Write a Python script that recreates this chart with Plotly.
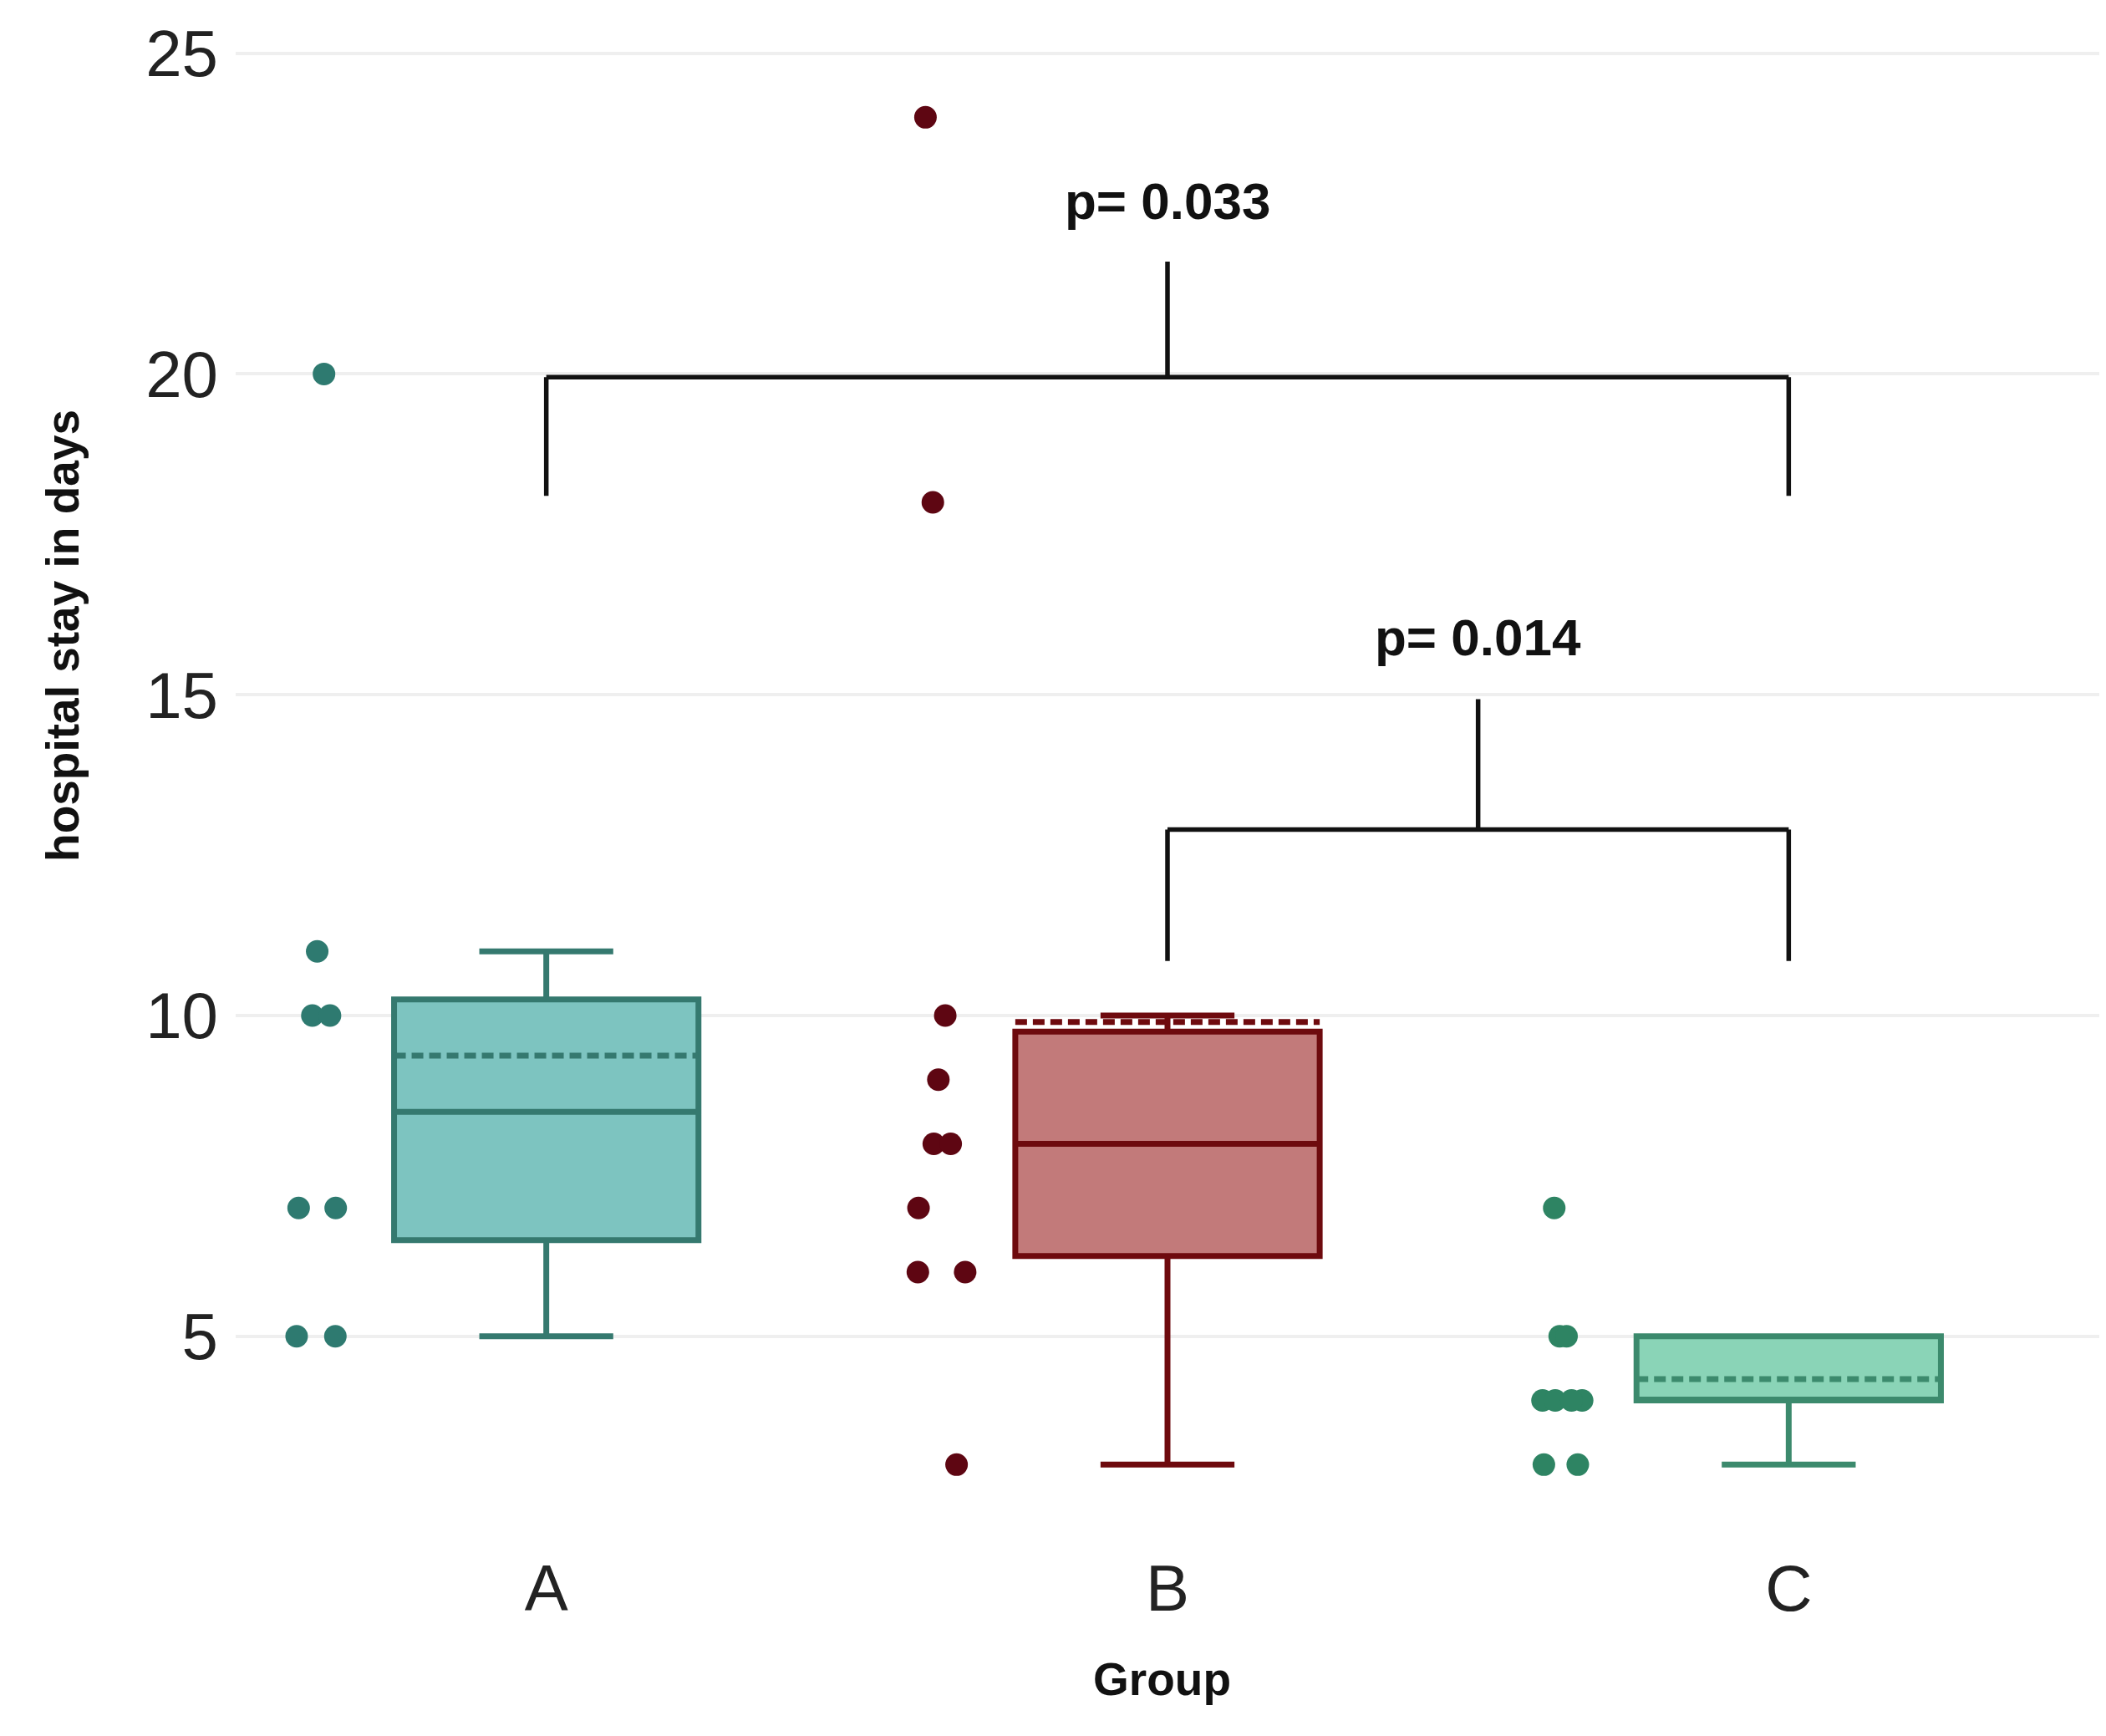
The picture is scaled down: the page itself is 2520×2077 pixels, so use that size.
import numpy as np
import plotly.graph_objects as go

# ---- data ----
categories = ["A", "B", "C"]
stay_A = [20, 11, 10, 10, 7, 7, 5, 5]
stay_B = [24, 18, 10, 9, 8, 8, 7, 6, 6, 3]
stay_C = [7, 5, 5, 4, 4, 4, 4, 3, 3]
y_ticks = [5, 10, 15, 20, 25]

# significance brackets: (left group, right group, bar y, arm bottom y, stem top y, label y, label)
brackets = [
    ("A", "C", 19.95, 18.1, 21.75, 22.7, "p= 0.033"),
    ("B", "C", 12.9, 10.85, 14.93, 15.9, "p= 0.014"),
]

fill_colors = ["#7DC4C0", "#C27A7A", "#8AD4B7"]
line_colors = ["#35796F", "#6E0A0E", "#3C8A6D"]
point_colors = ["#2E7A70", "#5E0612", "#2E8463"]

series = [stay_A, stay_B, stay_C]
FONT = "Liberation Sans, Arial, sans-serif"

fig = go.Figure()
for cat, vals, fc, lc, pc in zip(categories, series, fill_colors, line_colors, point_colors):
    arr = np.asarray(vals, dtype=float)
    q1, med, q3 = np.percentile(arr, [25, 50, 75])
    iqr = q3 - q1
    lo = arr[arr >= q1 - 1.5 * iqr].min()
    hi = arr[arr <= q3 + 1.5 * iqr].max()
    # box from type-7 quartiles
    fig.add_trace(go.Box(
        x=[cat], q1=[q1], median=[med], q3=[q3],
        lowerfence=[lo], upperfence=[hi], mean=[arr.mean()],
        boxmean=True, boxpoints=False,
        width=0.49, whiskerwidth=0.44,
        fillcolor=fc, line=dict(color=lc, width=7),
        showlegend=False, hoverinfo="skip",
    ))
    # jittered sample points to the left of the box
    fig.add_trace(go.Box(
        x=[cat] * len(vals), y=vals,
        boxpoints="all", jitter=0.22, pointpos=-1.5,
        width=0.49,
        fillcolor="rgba(0,0,0,0)", line=dict(color="rgba(0,0,0,0)", width=0),
        marker=dict(color=pc, size=27, line=dict(width=0)),
        showlegend=False,
    ))

shapes = []
annotations = []
for left, right, y_bar, y_arm, y_top, y_lab, label in brackets:
    xl = categories.index(left)
    xr = categories.index(right)
    xm = (xl + xr) / 2
    line = dict(color="#111111", width=5.5)
    shapes += [
        dict(type="line", xref="x", yref="y", x0=xl, x1=xr, y0=y_bar, y1=y_bar, line=line),
        dict(type="line", xref="x", yref="y", x0=xl, x1=xl, y0=y_arm, y1=y_bar, line=line),
        dict(type="line", xref="x", yref="y", x0=xr, x1=xr, y0=y_arm, y1=y_bar, line=line),
        dict(type="line", xref="x", yref="y", x0=xm, x1=xm, y0=y_bar, y1=y_top, line=line),
    ]
    annotations.append(dict(
        x=xm, y=y_lab, xref="x", yref="y", text="<b>%s</b>" % label, showarrow=False,
        font=dict(family=FONT, size=62, color="#111111"),
        xanchor="center", yanchor="middle",
    ))

annotations.append(dict(
    x=-0.0928, y=0.594, xref="paper", yref="paper", text="<b>hospital stay in days</b>",
    textangle=-90, showarrow=False, xanchor="center", yanchor="middle",
    font=dict(family=FONT, size=55, color="#111111"),
))
annotations.append(dict(
    x=0.497, y=-0.0954, xref="paper", yref="paper", text="<b>Group</b>",
    showarrow=False, xanchor="center", yanchor="middle",
    font=dict(family=FONT, size=55, color="#111111"),
))

fig.update_layout(
    width=2520, height=2077,
    margin=dict(l=274, r=16, t=15, b=249),
    paper_bgcolor="white", plot_bgcolor="white",
    shapes=shapes, annotations=annotations,
    boxmode="overlay",
)
fig.update_xaxes(
    type="category", categoryorder="array", categoryarray=categories,
    range=[-0.5, 2.5], showgrid=False, zeroline=False, showline=False,
    tickfont=dict(family=FONT, size=78, color="#222222"),
    ticks="", ticklabelstandoff=12,
)
fig.update_yaxes(
    range=[1.91, 25.49], tickvals=y_ticks, ticktext=[str(t) for t in y_ticks],
    showgrid=True, gridcolor="#EFEFEF", gridwidth=4, zeroline=False, showline=False,
    tickfont=dict(family=FONT, size=78, color="#222222"),
    ticks="", ticklabelstandoff=20,
)

fig.write_html("out.html")
